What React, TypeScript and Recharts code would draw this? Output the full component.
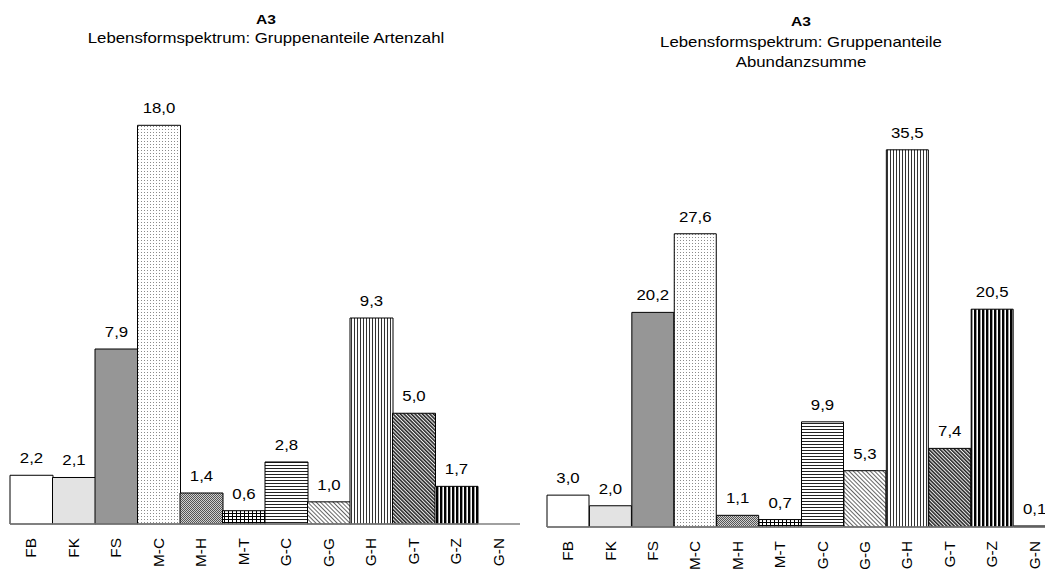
import React from 'react';
import { BarChart, Bar, XAxis, YAxis, Cell, LabelList } from 'recharts';

const categories = ['FB', 'FK', 'FS', 'M-C', 'M-H', 'M-T', 'G-C', 'G-G', 'G-H', 'G-T', 'G-Z', 'G-N'];
const artenzahl = [2.2, 2.1, 7.9, 18.0, 1.4, 0.6, 2.8, 1.0, 9.3, 5.0, 1.7, 0.0];
const abundanzsumme = [3.0, 2.0, 20.2, 27.6, 1.1, 0.7, 9.9, 5.3, 35.5, 7.4, 20.5, 0.1];

const titleMain = 'A3';
const leftSubtitle = ['Lebensformspektrum: Gruppenanteile Artenzahl'];
const rightSubtitle = ['Lebensformspektrum: Gruppenanteile', 'Abundanzsumme'];

const fills = [
  '#ffffff',
  '#e3e3e3',
  '#969696',
  'url(#pMC)',
  'url(#pMH)',
  'url(#pMT)',
  'url(#pGC)',
  'url(#pGG)',
  'url(#pGH)',
  'url(#pGT)',
  'url(#pGZ)',
  '#000000',
];

const FONT = '"Liberation Sans", Arial, Helvetica, sans-serif';

const leftData = categories.map((c, i) => ({ name: c, value: artenzahl[i] }));
const rightData = categories.map((c, i) => ({ name: c, value: abundanzsumme[i] }));

const fmt = (v: number) => v.toFixed(1).replace('.', ',');

const Tick = (props: any) => {
  const { x, y, payload } = props;
  return (
    <g transform={`translate(${x},${y + 6}) rotate(-90) scale(1.1,1)`}>
      <text x={0} y={0} dy="0.35em" textAnchor="end" fontFamily={FONT} fontSize={14} fill="#000">
        {payload.value}
      </text>
    </g>
  );
};

const ValueLabel = (props: any) => {
  const { x, y, width, value } = props;
  return (
    <g transform={`translate(${x + width / 2},${y - 12}) scale(1.2,1)`}>
      <text x={0} y={0} textAnchor="middle" fontFamily={FONT} fontSize={14} fill="#000">
        {fmt(value)}
      </text>
    </g>
  );
};

const Patterns = () => (
  <svg width={0} height={0} style={{ position: 'absolute' }}>
    <defs>
      <pattern id="pMC" patternUnits="userSpaceOnUse" width={3} height={3}>
        <rect width={3} height={3} fill="#fff" />
        <rect x={0} y={0} width={1} height={1} fill="#8a8a8a" />
      </pattern>
      <pattern id="pMH" patternUnits="userSpaceOnUse" width={2} height={2}>
        <rect width={2} height={2} fill="#d0d0d0" />
        <rect x={0} y={0} width={1} height={1} fill="#555" />
        <rect x={1} y={1} width={1} height={1} fill="#555" />
      </pattern>
      <pattern id="pMT" patternUnits="userSpaceOnUse" width={4} height={3}>
        <rect width={4} height={3} fill="#fff" />
        <rect x={0} y={0} width={4} height={1} fill="#000" />
        <rect x={0} y={0} width={1} height={3} fill="#000" />
      </pattern>
      <pattern id="pGC" patternUnits="userSpaceOnUse" width={4} height={3}>
        <rect width={4} height={3} fill="#fff" />
        <rect x={0} y={0} width={4} height={1} fill="#222" />
      </pattern>
      <pattern id="pGG" patternUnits="userSpaceOnUse" width={3} height={3} patternTransform="rotate(-45)">
        <rect width={3} height={3} fill="#fff" />
        <rect x={0} y={0} width={0.9} height={3} fill="#555" />
      </pattern>
      <pattern id="pGH" patternUnits="userSpaceOnUse" width={3} height={3}>
        <rect width={3} height={3} fill="#fff" />
        <rect x={0} y={0} width={1} height={3} fill="#333" />
      </pattern>
      <pattern id="pGT" patternUnits="userSpaceOnUse" width={2.6} height={3} patternTransform="rotate(-45)">
        <rect width={2.6} height={3} fill="#eee" />
        <rect x={0} y={0} width={1.5} height={3} fill="#222" />
      </pattern>
      <pattern id="pGZ" patternUnits="userSpaceOnUse" width={4} height={3}>
        <rect width={4} height={3} fill="#fff" />
        <rect x={0} y={0} width={2.4} height={3} fill="#000" />
      </pattern>
    </defs>
  </svg>
);

const Titles = () => (
  <svg width={1045} height={80} style={{ position: 'absolute', left: 0, top: 0 }}>
    <g transform="translate(266,24) scale(1.2,1)">
      <text x={0} y={0} textAnchor="middle" fontFamily={FONT} fontSize={13} fontWeight="bold" fill="#000">
        {titleMain}
      </text>
    </g>
    {leftSubtitle.map((t, i) => (
      <g key={i} transform={`translate(266,${43 + i * 20}) scale(1.2,1)`}>
        <text x={0} y={0} textAnchor="middle" fontFamily={FONT} fontSize={14} fill="#000">
          {t}
        </text>
      </g>
    ))}
    <g transform="translate(801,26) scale(1.2,1)">
      <text x={0} y={0} textAnchor="middle" fontFamily={FONT} fontSize={13} fontWeight="bold" fill="#000">
        {titleMain}
      </text>
    </g>
    {rightSubtitle.map((t, i) => (
      <g key={i} transform={`translate(801,${47 + i * 20}) scale(1.2,1)`}>
        <text x={0} y={0} textAnchor="middle" fontFamily={FONT} fontSize={14} fill="#000">
          {t}
        </text>
      </g>
    ))}
  </svg>
);

export default function App() {
  return (
    <div
      style={{
        position: 'absolute',
        left: 0,
        top: 0,
        width: 1045,
        height: 569,
        overflow: 'hidden',
        background: '#fff',
      }}
    >
      <Patterns />
      <div style={{ position: 'absolute', left: 0, top: 0 }}>
        <BarChart
          width={520}
          height={569}
          data={leftData}
          margin={{ top: 81, right: 0, bottom: 0, left: 10 }}
          barCategoryGap={0}
          barGap={0}
        >
          <XAxis
            dataKey="name"
            height={45}
            tickLine={false}
            axisLine={{ stroke: '#808080', strokeWidth: 1.5 }}
            tick={<Tick />}
            interval={0}
          />
          <YAxis hide domain={[0, 20]} />
          <Bar dataKey="value" isAnimationActive={false} stroke="#000" strokeWidth={1}>
            {leftData.map((d, i) => (
              <Cell key={d.name} fill={fills[i]} stroke="#000" strokeWidth={1} />
            ))}
            <LabelList dataKey="value" content={<ValueLabel />} />
          </Bar>
        </BarChart>
      </div>
      <div style={{ position: 'absolute', left: 530, top: 0 }}>
        <BarChart
          width={526}
          height={569}
          data={rightData}
          margin={{ top: 102, right: 0, bottom: 0, left: 17 }}
          barCategoryGap={0}
          barGap={0}
        >
          <XAxis
            dataKey="name"
            height={42}
            tickLine={false}
            axisLine={{ stroke: '#808080', strokeWidth: 1.5 }}
            tick={<Tick />}
            interval={0}
          />
          <YAxis hide domain={[0, 40]} />
          <Bar dataKey="value" isAnimationActive={false} stroke="#000" strokeWidth={1}>
            {rightData.map((d, i) => (
              <Cell key={d.name} fill={fills[i]} stroke="#000" strokeWidth={1} />
            ))}
            <LabelList dataKey="value" content={<ValueLabel />} />
          </Bar>
        </BarChart>
      </div>
      <Titles />
    </div>
  );
}
